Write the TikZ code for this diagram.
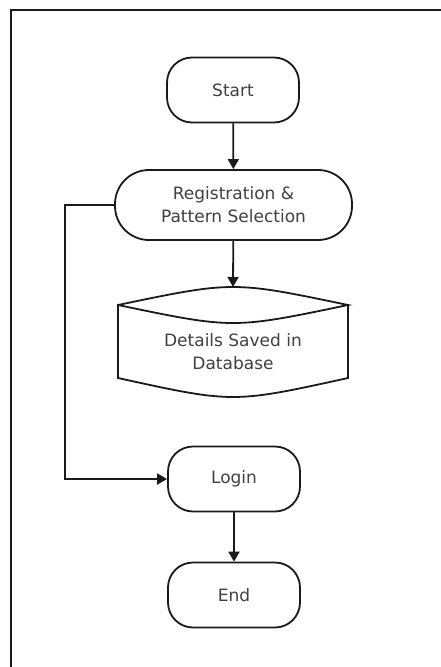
\documentclass[tikz,border=0pt]{standalone}
\usepackage{fontspec}
\setmainfont{DejaVu Sans}
\usetikzlibrary{arrows.meta}
\definecolor{linegray}{HTML}{1A1A1A}
\definecolor{textgray}{HTML}{404040}

\begin{document}
\begin{tikzpicture}[x=1pt, y=-1pt, line width=1.8pt,
  every node/.style={align=center, text=textgray, font=\fontsize{17}{23}\selectfont},
  terminal/.style={draw=linegray, rectangle, rounded corners=25pt, minimum width=132pt, minimum height=65pt},
  process/.style={draw=linegray, rectangle, rounded corners=34pt, minimum width=237pt, minimum height=70pt},
  flow/.style={draw=linegray, -{Triangle[length=10pt, width=11pt]}}]
\useasboundingbox (0,0) rectangle (441,667);

% Frame
\draw[linegray, line width=2.2pt] (441,10) -- (11,10) -- (11,667);

% Start and registration
\node[terminal] (start) at (233,90) {Start};
\node[process] (reg) at (233.5,205) {Registration \&\\Pattern Selection};

% Database
\draw[linegray] (118,305) .. controls (233,281) .. (348,305)
  .. controls (233,329) .. (118,305) -- (118,378)
  .. controls (233,403.3) .. (348,378) -- (348,305);
\coordinate (dbtop) at (233,287);
\node (db) at (233,352) {Details Saved in\\Database};

% Login and end
\node[terminal] (login) at (234,479) {Login};
\node[terminal] (end) at (234,595) {End};
\coordinate (bend) at (65,205);

% Connectors
\draw[flow] (start) -- (reg);
\draw[flow] (reg) -- (dbtop);
\draw[flow] (reg.west) -- (bend) |- (login.west);
\draw[flow] (login) -- (end);
\end{tikzpicture}
\end{document}
